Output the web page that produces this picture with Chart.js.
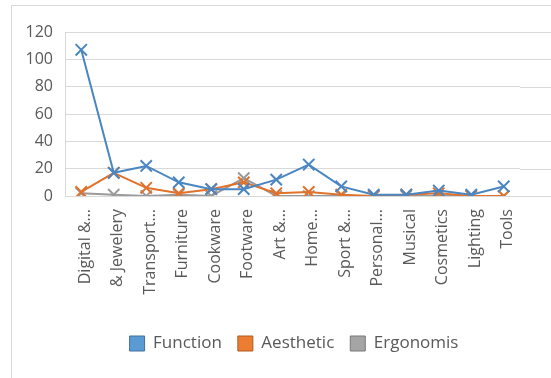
<!DOCTYPE html>
<html>
<head>
<meta charset="utf-8">
<script src="https://cdn.jsdelivr.net/npm/chart.js@4.4.1/dist/chart.umd.min.js"></script>
<style>
  html, body { margin: 0; padding: 0; background: #fff; overflow: hidden; }
  #frame {
    position: absolute; left: 11px; top: 5px;
    width: 600px; height: 420px;
    border: 1px solid #d9d9d9;
  }
  #wrap { position: absolute; left: 0; top: 0; width: 551px; height: 378px; }
</style>
</head>
<body>
<div id="frame"></div>
<div id="wrap"><canvas id="chart"></canvas></div>
<script>
const categories = ["Digital &\u2026", "& Jewelery", "Transport\u2026", "Furniture", "Cookware", "Footware",
  "Art &\u2026", "Home\u2026", "Sport &\u2026", "Personal\u2026", "Musical", "Cosmetics", "Lighting", "Tools"];
const functionValues  = [107, 17, 22, 10, 5, 5, 12, 23, 7, 1, 1, 4, 1, 7];
const aestheticValues = [3, 17, 6, 2, 5, 10, 2, 3, 1, 0, 1, 2, 0, 0];
const ergonomisValues = [2, 1, 0, 1, 0, 13, 0, 0, 0, 0, 0, 0, 0, 0];
const yTicks = [0, 20, 40, 60, 80, 100, 120];

const textColor = '#595959';
const gridColor = '#d9d9d9';

// gridlines in the picture run on past the last category to the image edge
const extendGrid = {
  id: 'extendGrid',
  beforeDatasetsDraw(chart) {
    const ctx = chart.ctx, area = chart.chartArea, y = chart.scales.y;
    ctx.save();
    ctx.strokeStyle = gridColor;
    ctx.lineWidth = 1;
    y.ticks.forEach(t => {
      const py = Math.round(y.getPixelForValue(t.value)) + 0.5;
      ctx.beginPath();
      ctx.moveTo(area.right, py);
      ctx.lineTo(chart.width, py);
      ctx.stroke();
    });
    ctx.restore();
  }
};

// the original frame is wider than the crop, so its legend sits right of centre
const shiftLegend = {
  id: 'shiftLegend',
  afterLayout(chart) {
    const lg = chart.legend;
    if (!lg) return;
    lg.left += 34;
    lg.right += 34;
    lg.adjustHitBoxes && lg.adjustHitBoxes();
  }
};

function series(label, data, line, fill, edge) {
  return {
    label: label,
    data: data,
    borderColor: line,
    backgroundColor: fill,
    legendEdge: edge,
    borderWidth: 2,
    pointStyle: 'crossRot',
    pointRadius: 8,
    pointHoverRadius: 8,
    pointBorderWidth: 2,
    pointBorderColor: line,
    fill: false,
    tension: 0
  };
}

new Chart(document.getElementById('chart'), {
  type: 'line',
  data: {
    labels: categories,
    datasets: [
      series('Function', functionValues, '#4a86c2', '#5b9bd5', '#41719c'),
      series('Aesthetic', aestheticValues, '#e0722b', '#ed7d31', '#ae5a21'),
      series('Ergonomis', ergonomisValues, '#9a9a9a', '#a5a5a5', '#787878')
    ]
  },
  options: {
    responsive: true,
    maintainAspectRatio: false,
    animation: false,
    layout: { padding: { top: 32, right: 31, bottom: 16, left: 0 } },
    plugins: {
      legend: {
        position: 'bottom',
        labels: {
          color: textColor,
          font: { family: 'Open Sans', size: 17 },
          boxWidth: 15,
          boxHeight: 15,
          padding: 16,
          generateLabels(chart) {
            return chart.data.datasets.map((ds, i) => ({
              text: ds.label,
              fillStyle: ds.backgroundColor,
              strokeStyle: ds.legendEdge,
              lineWidth: 1,
              fontColor: textColor,
              datasetIndex: i
            }));
          }
        }
      },
      tooltip: { enabled: false }
    },
    scales: {
      x: {
        offset: true,
        grid: { display: false },
        border: { display: true, color: gridColor },
        ticks: {
          color: textColor,
          font: { family: 'Open Sans', size: 16 },
          minRotation: 90,
          maxRotation: 90,
          autoSkip: false,
          labelOffset: 4,
          padding: 5
        },
        afterFit(scale) { scale.height = 123; }
      },
      y: {
        min: 0,
        max: 120,
        afterBuildTicks(scale) { scale.ticks = yTicks.map(v => ({ value: v })); },
        grid: { color: gridColor, drawTicks: false },
        border: { display: true, color: gridColor },
        ticks: {
          color: textColor,
          font: { family: 'Open Sans', size: 16 },
          padding: 12
        },
        afterFit(scale) { scale.width = 65; }
      }
    }
  },
  plugins: [extendGrid, shiftLegend]
});
</script>
</body>
</html>
